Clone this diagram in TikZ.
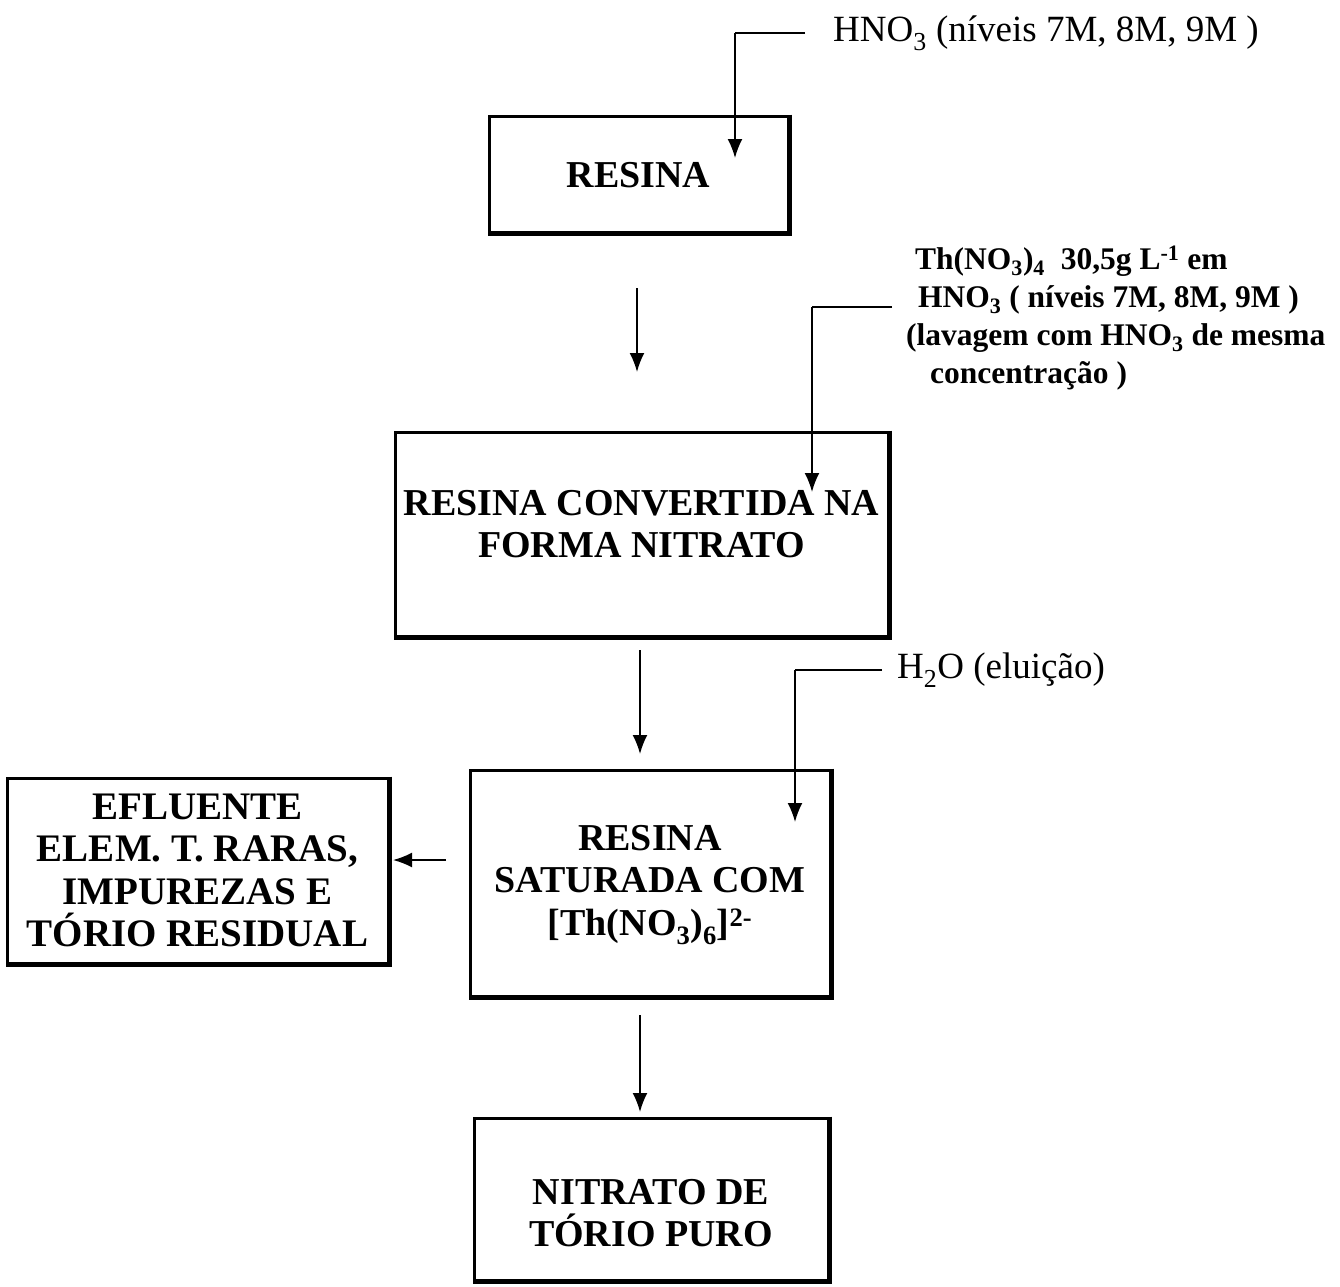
\documentclass[tikz,border=0pt]{standalone}
\usepackage{fontspec}
\setmainfont{Liberation Serif}
\usetikzlibrary{arrows.meta,calc}
\begin{document}
\begin{tikzpicture}[x=1pt,y=-1pt,
  box/.style={draw, line width=3pt, inner sep=0pt},
  btxt/.style={align=center, inner sep=0pt, font=\fontsize{38}{42.5}\selectfont\bfseries},
  flow/.style={line width=1.8pt, -{Latex[length=19pt,width=15pt]}},
  feed/.style={line width=1.8pt},
  lab/.style={anchor=west, inner sep=0pt, align=left}]
\useasboundingbox (0,0) rectangle (1340,1286);

\node[box, minimum width=299, minimum height=116,
  label={[btxt, name=t1, yshift=-1pt]center:RESINA}] (r1) at (638.5,174) {};
\node[box, minimum width=493, minimum height=204,
  label={[btxt, name=t2, yshift=10pt]center:RESINA CONVERTIDA NA\\FORMA NITRATO}] (r2) at (641.5,534) {};
\node[box, minimum width=360, minimum height=226,
  label={[btxt, name=t3, yshift=-2pt]center:RESINA\\SATURADA COM\\{[}Th(NO\textsubscript{3})\textsubscript{6}{]}\textsuperscript{2-}}] (r3) at (650,883) {};
\node[box, minimum width=381, minimum height=185,
  label={[btxt, name=t4, font=\fontsize{39}{42.5}\selectfont\bfseries]center:EFLUENTE\\ELEM. T. RARAS,\\IMPUREZAS E\\TÓRIO RESIDUAL}] (ef) at (197.5,870.5) {};
\node[box, minimum width=354, minimum height=162,
  label={[btxt, name=t5, yshift=-14pt]center:NITRATO DE\\TÓRIO PURO}] (np) at (651,1199) {};

% heavier right and bottom edges
\foreach \n in {r1,r2,r3,ef,np}
  \draw[line width=4.5pt] (\n.north east) -- (\n.south east) -- (\n.south west);

% labels
\node[lab, font=\fontsize{37}{42}\selectfont] (l1) at (833,33) {HNO\textsubscript{3} (níveis 7M, 8M, 9M )};
\node[lab, font=\fontsize{31.5}{38}\selectfont\bfseries] (l2) at (906,318)
  {\hspace*{9pt}Th(NO\textsubscript{3})\textsubscript{4}\ \ 30,5g L\textsuperscript{-1} em\\
   \hspace*{12pt}HNO\textsubscript{3} ( níveis 7M, 8M, 9M )\\
   (lavagem com HNO\textsubscript{3} de mesma\\
   \hspace*{24pt}concentração )};
\node[lab, font=\fontsize{37}{42}\selectfont] (l3) at (897,670) {H\textsubscript{2}O (eluição)};

% feed lines
\coordinate (a1) at (805,33);
\coordinate (a2) at (735,33);
\coordinate (a3) at (735,158);
\draw[feed] (a1) -- (a2);
\draw[flow] (a2) -- (a3);

\coordinate (b1) at (892,307);
\coordinate (b2) at (812,307);
\coordinate (b3) at (812,492);
\draw[feed] (b1) -- (b2);
\draw[flow] (b2) -- (b3);

\coordinate (c1) at (882,670);
\coordinate (c2) at (795,670);
\coordinate (c3) at (795,822);
\draw[feed] (c1) -- (c2);
\draw[flow] (c2) -- (c3);

% main flow
\coordinate (m1) at (637,288);
\coordinate (m2) at (637,372);
\draw[flow] (m1) -- (m2);
\coordinate (m3) at (640,650);
\coordinate (m4) at (640,754);
\draw[flow] (m3) -- (m4);
\coordinate (m5) at (640,1015);
\coordinate (m6) at (640,1112);
\draw[flow] (m5) -- (m6);
\coordinate (e1) at (446,860);
\coordinate (e2) at (393,860);
\draw[flow] (e1) -- (e2);
\end{tikzpicture}
\end{document}
